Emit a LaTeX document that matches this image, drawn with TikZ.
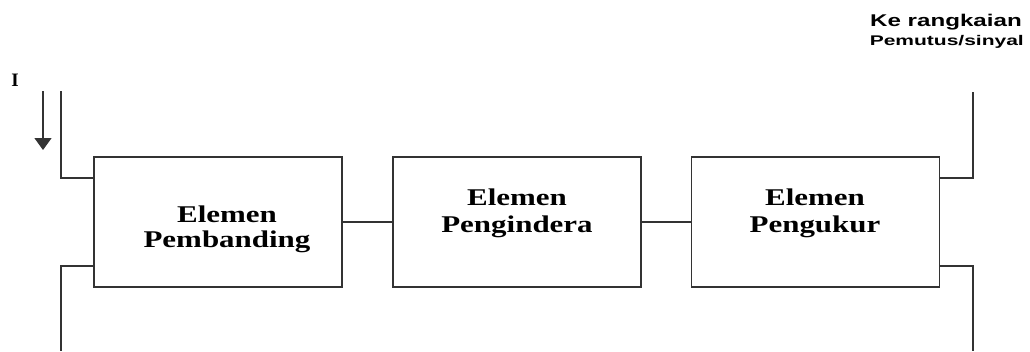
\documentclass[tikz,border=0pt]{standalone}
\usepackage{fontspec}
\setmainfont{Liberation Serif}
\newfontfamily\arialfont{Liberation Sans}
\usetikzlibrary{arrows.meta}
\tikzset{
  blk/.style={draw=black!80, line width=1.6pt, minimum width=248pt, minimum height=130pt, inner sep=0pt},
  wire/.style={draw=black!80, line width=1.4pt},
  btxt/.style={anchor=base, inner sep=0pt, font=\bfseries\fontsize{24}{26}\selectfont},
  stxt/.style={anchor=base east, inner sep=0pt, font=\arialfont\bfseries},
}
\newcommand{\hs}[2]{\scalebox{#1}[1]{#2}}
\begin{document}
\begin{tikzpicture}[x=1pt,y=-1pt]
\useasboundingbox (0,0) rectangle (1030,351);
% boxes
\node[blk] (b1) at (218,222) {};
\node[blk] (b2) at (517,222) {};
\node[blk] (b3) at (815.5,222) {};
% texts
\node[btxt] (t1a) at (227,222) {\hs{1.29}{Elemen}};
\node[btxt] (t1b) at (227,247) {\hs{1.29}{Pembanding}};
\node[btxt] (t2a) at (517,205) {\hs{1.29}{Elemen}};
\node[btxt] (t2b) at (517,232) {\hs{1.29}{Pengindera}};
\node[btxt] (t3a) at (815,205) {\hs{1.29}{Elemen}};
\node[btxt] (t3b) at (815,232) {\hs{1.29}{Pengukur}};
% right label
\node[stxt, font=\arialfont\bfseries\fontsize{17}{18}\selectfont] (k1) at (1022,26) {\hs{1.42}{Ke rangkaian}};
\node[stxt, font=\arialfont\bfseries\fontsize{14}{15}\selectfont] (k2) at (1024,45) {\hs{1.5}{Pemutus/sinyal}};
% current label
\node[anchor=base, inner sep=0pt, font=\bfseries\fontsize{19}{20}\selectfont] (I) at (15,86) {I};
% coordinates
\coordinate (lt) at (61,91);
\coordinate (lb) at (61,351);
\coordinate (rt) at (973,92);
\coordinate (rb) at (973,351);
\coordinate (at) at (43,91);
\coordinate (ab) at (43,150);
% wires
\draw[wire] (lt) |- (b1.west |- 0,178);
\draw[wire] (b1.west |- 0,266) -| (lb);
\draw[wire] (rt) |- (b3.east |- 0,178);
\draw[wire] (b3.east |- 0,266) -| (rb);
\draw[wire] (b1.east) -- (b2.west);
\draw[wire] (b2.east) -- (b3.west);
% arrow
\draw[wire, -{Triangle[width=17pt,length=12pt]}] (at) -- (ab);
\end{tikzpicture}
\end{document}
